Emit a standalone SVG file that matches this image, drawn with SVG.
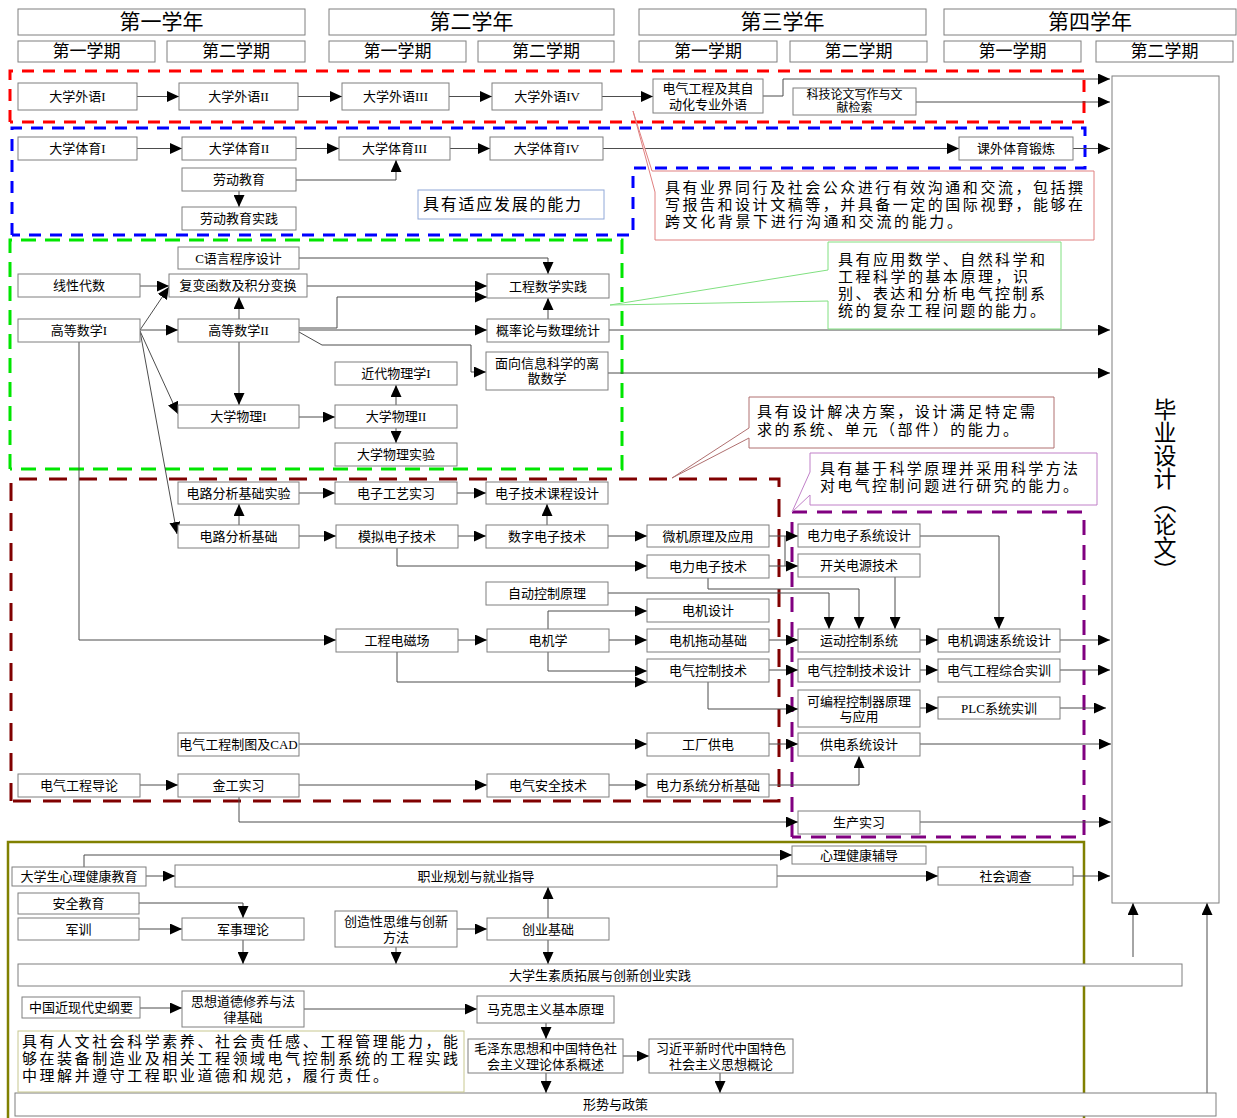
<svg xmlns="http://www.w3.org/2000/svg" width="1237" height="1118" viewBox="0 0 1237 1118">
<defs>
<marker id="a" markerUnits="userSpaceOnUse" markerWidth="12" markerHeight="11" refX="12" refY="5.5" orient="auto"><path d="M0,0L12,5.5L0,11z" fill="#000"/></marker>
</defs>
<style>
.n rect{fill:#fff;stroke:#7f7f7f;stroke-width:1}
.n text{font-family:"Liberation Serif","Noto Sans CJK SC",serif;font-size:13px;text-anchor:middle;dominant-baseline:central;fill:#000}
.n .hy{font-size:21px}
.n .hs{font-size:17px}
.n .sm{font-size:12px}
.c path{fill:none;stroke:#4d4d4d;stroke-width:1;marker-end:url(#a)}
.c path.nm{marker-end:none}
.d{fill:none;stroke-width:3}
.co{fill:#fff;stroke-width:1}
.ct{font-family:"Noto Sans CJK SC",sans-serif;font-size:15px;fill:#000}
.vt{font-family:"Noto Sans CJK SC",sans-serif;font-size:23px;writing-mode:vertical-rl;fill:#000}
</style>
<rect width="1237" height="1118" fill="#fff"/>

<g id="regions">
<path class="d" stroke="#ff0000" stroke-dasharray="12 9" d="M10,122V71H1084V122H10"/>
<path class="d" stroke="#0000ff" stroke-dasharray="12 9" d="M12,235V128H1085V168H633V235H12"/>
<path class="d" stroke="#00e600" stroke-dasharray="15 9" d="M10,469V240H622V469H10"/>
<path class="d" stroke="#800000" stroke-dasharray="18 12" d="M11,801V479H779V801H11"/>
<path class="d" stroke="#800080" stroke-dasharray="15 10" d="M792,837V512H1084V837H792"/>
<path fill="none" stroke="#808000" stroke-width="2.5" d="M8,1118V842H1084V1118"/>
</g>

<g class="c" id="connectors">
<path d="M137,96.5H179"/><path d="M298,96.5H342"/><path d="M449,96.5H492"/><path d="M602,96.5H653"/>
<path d="M763,96H783V79H1110"/><path d="M916,102H1110"/>
<path d="M137,148.5H182"/><path d="M296,148.5H339"/><path d="M450,148.5H490"/><path d="M603,148.5H959"/><path d="M1073,148.5H1110"/>
<path d="M296,180H396V160"/><path d="M239,191V207"/>
<path d="M299,258H548V274"/><path d="M307,286H487"/><path d="M299,328H337V297H487"/><path d="M299,330H487"/>
<path d="M299,332L322,345H471V372H486"/><path d="M548,319V298"/><path d="M609,330H1110"/><path d="M608,373H1110"/>
<path d="M140,286H169"/><path d="M140,330L169,287"/><path d="M140,330H178"/><path d="M140,331L178,414"/><path d="M140,331L177,534"/>
<path d="M79,342V640H336"/><path d="M239,319V297"/><path d="M239,342V405"/><path d="M299,417H335"/><path d="M396,405V385"/><path d="M396,428V443"/>
<path d="M239,525V504"/><path d="M299,493H335"/><path d="M457,493H486"/><path d="M299,536H336"/><path d="M458,536H486"/><path d="M547,525V504"/>
<path d="M608,536H647"/><path d="M397,548V566H647"/>
<path d="M769,536H798"/><path d="M769,566H798"/><path class="nm" d="M785,536V566"/>
<path d="M708,578V589H859V629"/><path d="M608,593H829V629"/><path d="M895,577V629"/><path d="M920,536H999V629"/>
<path d="M458,640H487"/><path d="M548,629V611H647"/><path d="M609,640H647"/><path d="M548,652V671H647"/><path d="M397,652V682H647"/>
<path d="M769,640H798"/><path d="M769,670H798"/><path d="M708,682V709H798"/><path d="M299,744H647"/><path d="M769,744H798"/>
<path d="M140,785H178"/><path d="M299,785H487"/><path d="M609,785H647"/><path d="M769,785H859V756"/><path d="M239,797V822H798"/>
<path d="M920,640H938"/><path d="M920,670H938"/><path d="M920,708H938"/>
<path d="M1060,640H1110"/><path d="M1060,670H1110"/><path d="M1060,708H1106"/><path d="M920,744H1111"/><path d="M920,822H1111"/>
<path d="M84,868V855H792"/><path d="M146,876H175"/><path d="M777,876H938"/><path d="M1073,876H1110"/>
<path d="M139,903H243V918"/><path d="M139,929H182"/><path d="M243,940V964"/><path d="M396,947V964"/><path d="M457,929H487"/>
<path d="M548,918V887"/><path d="M548,940V964"/><path d="M1133,957V903"/><path d="M1207,1093V903"/>
<path d="M140,1008H182"/><path d="M304,1009H477"/><path d="M546,1023V1039"/><path d="M623,1056H649"/><path d="M546,1073V1093"/><path d="M720,1073V1093"/>
</g>

<g class="n">
<g id="y1"><rect x="18" y="9" width="287" height="26"/><text class="hy" x="161.5" y="22">第一学年</text></g>
<g id="y2"><rect x="329" y="9" width="285" height="26"/><text class="hy" x="471.5" y="22">第二学年</text></g>
<g id="y3"><rect x="639" y="9" width="287" height="26"/><text class="hy" x="782.5" y="22">第三学年</text></g>
<g id="y4"><rect x="944" y="9" width="292" height="26"/><text class="hy" x="1090" y="22">第四学年</text></g>
<g id="s11"><rect x="18" y="41" width="137" height="21"/><text class="hs" x="86.5" y="51.5">第一学期</text></g>
<g id="s12"><rect x="167" y="41" width="138" height="21"/><text class="hs" x="236" y="51.5">第二学期</text></g>
<g id="s21"><rect x="329" y="41" width="137" height="21"/><text class="hs" x="397.5" y="51.5">第一学期</text></g>
<g id="s22"><rect x="478" y="41" width="136" height="21"/><text class="hs" x="546" y="51.5">第二学期</text></g>
<g id="s31"><rect x="639" y="41" width="138" height="21"/><text class="hs" x="708" y="51.5">第一学期</text></g>
<g id="s32"><rect x="790" y="41" width="137" height="21"/><text class="hs" x="858.5" y="51.5">第二学期</text></g>
<g id="s41"><rect x="944" y="41" width="137" height="21"/><text class="hs" x="1012.5" y="51.5">第一学期</text></g>
<g id="s42"><rect x="1096" y="41" width="137" height="21"/><text class="hs" x="1164.5" y="51.5">第二学期</text></g>

<g id="wy1"><rect x="18" y="83" width="119" height="27"/><text x="77.5" y="96.5">大学外语I</text></g>
<g id="wy2"><rect x="179" y="83" width="119" height="27"/><text x="238.5" y="96.5">大学外语II</text></g>
<g id="wy3"><rect x="342" y="83" width="107" height="27"/><text x="395.5" y="96.5">大学外语III</text></g>
<g id="wy4"><rect x="492" y="83" width="110" height="27"/><text x="547" y="96.5">大学外语IV</text></g>
<g id="zywy"><rect x="653" y="79" width="110" height="34"/><text x="708" y="88.5">电气工程及其自</text><text x="708" y="104">动化专业外语</text></g>
<g id="kjlw"><rect x="793" y="88" width="123" height="27"/><text class="sm" x="854.5" y="95">科技论文写作与文</text><text class="sm" x="854.5" y="108">献检索</text></g>

<g id="ty1"><rect x="18" y="137" width="119" height="23"/><text x="77.5" y="148.5">大学体育I</text></g>
<g id="ty2"><rect x="182" y="137" width="114" height="23"/><text x="239" y="148.5">大学体育II</text></g>
<g id="ty3"><rect x="339" y="137" width="111" height="23"/><text x="394.5" y="148.5">大学体育III</text></g>
<g id="ty4"><rect x="490" y="137" width="113" height="23"/><text x="546.5" y="148.5">大学体育IV</text></g>
<g id="kwty"><rect x="959" y="137" width="114" height="23"/><text x="1016" y="148.5">课外体育锻炼</text></g>
<g id="ldjy"><rect x="182" y="168" width="114" height="23"/><text x="239" y="179.5">劳动教育</text></g>
<g id="ldsj"><rect x="182" y="207" width="114" height="23"/><text x="239" y="218.5">劳动教育实践</text></g>

<g id="cyy"><rect x="178" y="247" width="121" height="22"/><text x="238.5" y="258">C语言程序设计</text></g>
<g id="xxds"><rect x="18" y="274" width="122" height="23"/><text x="79" y="285.5">线性代数</text></g>
<g id="fbhs"><rect x="169" y="274" width="138" height="23"/><text x="238" y="285.5">复变函数及积分变换</text></g>
<g id="gdsx1"><rect x="18" y="319" width="122" height="23"/><text x="79" y="330.5">高等数学I</text></g>
<g id="gdsx2"><rect x="178" y="319" width="121" height="23"/><text x="238.5" y="330.5">高等数学II</text></g>
<g id="gcsx"><rect x="487" y="274" width="122" height="24"/><text x="548" y="286">工程数学实践</text></g>
<g id="gll"><rect x="487" y="319" width="122" height="23"/><text x="548" y="330.5">概率论与数理统计</text></g>
<g id="lssx"><rect x="486" y="352" width="122" height="38"/><text x="547" y="363">面向信息科学的离</text><text x="547" y="378">散数学</text></g>
<g id="jdwl"><rect x="335" y="362" width="122" height="23"/><text x="396" y="373.5">近代物理学I</text></g>
<g id="dxwl1"><rect x="178" y="405" width="121" height="23"/><text x="238.5" y="416.5">大学物理I</text></g>
<g id="dxwl2"><rect x="335" y="405" width="122" height="23"/><text x="396" y="416.5">大学物理II</text></g>
<g id="wlsy"><rect x="335" y="443" width="122" height="23"/><text x="396" y="454.5">大学物理实验</text></g>

<g id="dlsy"><rect x="178" y="482" width="121" height="22"/><text x="238.5" y="493">电路分析基础实验</text></g>
<g id="dzgy"><rect x="335" y="482" width="122" height="22"/><text x="396" y="493">电子工艺实习</text></g>
<g id="dzkc"><rect x="486" y="482" width="122" height="22"/><text x="547" y="493">电子技术课程设计</text></g>
<g id="dlfx"><rect x="178" y="525" width="121" height="23"/><text x="238.5" y="536.5">电路分析基础</text></g>
<g id="mndz"><rect x="336" y="525" width="122" height="23"/><text x="397" y="536.5">模拟电子技术</text></g>
<g id="szdz"><rect x="486" y="525" width="122" height="23"/><text x="547" y="536.5">数字电子技术</text></g>
<g id="wjyl"><rect x="647" y="525" width="122" height="22"/><text x="708" y="536">微机原理及应用</text></g>
<g id="dldz"><rect x="647" y="555" width="122" height="23"/><text x="708" y="566.5">电力电子技术</text></g>
<g id="zdkz"><rect x="486" y="582" width="122" height="23"/><text x="547" y="593.5">自动控制原理</text></g>
<g id="djsj"><rect x="647" y="599" width="122" height="23"/><text x="708" y="610.5">电机设计</text></g>
<g id="gcdc"><rect x="336" y="629" width="122" height="23"/><text x="397" y="640.5">工程电磁场</text></g>
<g id="djx"><rect x="487" y="629" width="122" height="23"/><text x="548" y="640.5">电机学</text></g>
<g id="djtd"><rect x="647" y="629" width="122" height="23"/><text x="708" y="640.5">电机拖动基础</text></g>
<g id="dqkz"><rect x="647" y="659" width="122" height="23"/><text x="708" y="670.5">电气控制技术</text></g>
<g id="cad"><rect x="178" y="733" width="121" height="23"/><text x="238.5" y="744.5">电气工程制图及CAD</text></g>
<g id="gcgd"><rect x="647" y="733" width="122" height="23"/><text x="708" y="744.5">工厂供电</text></g>
<g id="dqdl"><rect x="18" y="774" width="122" height="23"/><text x="79" y="785.5">电气工程导论</text></g>
<g id="jgsx"><rect x="178" y="774" width="121" height="23"/><text x="238.5" y="785.5">金工实习</text></g>
<g id="dqaq"><rect x="487" y="774" width="122" height="23"/><text x="548" y="785.5">电气安全技术</text></g>
<g id="dlxt"><rect x="647" y="774" width="122" height="23"/><text x="708" y="785.5">电力系统分析基础</text></g>

<g id="dlxtsj"><rect x="798" y="524" width="122" height="23"/><text x="859" y="535.5">电力电子系统设计</text></g>
<g id="kgdy"><rect x="798" y="554" width="122" height="23"/><text x="859" y="565.5">开关电源技术</text></g>
<g id="ydkz"><rect x="798" y="629" width="122" height="23"/><text x="859" y="640.5">运动控制系统</text></g>
<g id="djts"><rect x="938" y="629" width="122" height="23"/><text x="999" y="640.5">电机调速系统设计</text></g>
<g id="dqkzsj"><rect x="798" y="659" width="122" height="23"/><text x="859" y="670.5">电气控制技术设计</text></g>
<g id="dqzh"><rect x="938" y="659" width="122" height="23"/><text x="999" y="670.5">电气工程综合实训</text></g>
<g id="plc"><rect x="798" y="690" width="122" height="37"/><text x="859" y="701">可编程控制器原理</text><text x="859" y="716">与应用</text></g>
<g id="plcsx"><rect x="938" y="697" width="122" height="22"/><text x="999" y="708">PLC系统实训</text></g>
<g id="gdxt"><rect x="798" y="733" width="122" height="23"/><text x="859" y="744.5">供电系统设计</text></g>
<g id="scsx"><rect x="798" y="811" width="122" height="23"/><text x="859" y="822.5">生产实习</text></g>

<g id="bysj"><rect x="1112" y="76" width="107" height="827"/></g>

<g id="xljk"><rect x="12" y="867" width="134" height="19"/><text x="79" y="876.5">大学生心理健康教育</text></g>
<g id="zygh"><rect x="175" y="865" width="602" height="22"/><text x="476" y="876">职业规划与就业指导</text></g>
<g id="xlfd"><rect x="792" y="846" width="134" height="18"/><text x="859" y="855">心理健康辅导</text></g>
<g id="shdc"><rect x="938" y="867" width="135" height="18"/><text x="1005.5" y="876">社会调查</text></g>
<g id="aqjy"><rect x="18" y="893" width="121" height="21"/><text x="78.5" y="903.5">安全教育</text></g>
<g id="jx"><rect x="18" y="918" width="121" height="22"/><text x="78.5" y="929">军训</text></g>
<g id="jsll"><rect x="182" y="918" width="122" height="22"/><text x="243" y="929">军事理论</text></g>
<g id="czx"><rect x="335" y="911" width="122" height="36"/><text x="396" y="921">创造性思维与创新</text><text x="396" y="937">方法</text></g>
<g id="cyjc"><rect x="487" y="918" width="122" height="22"/><text x="548" y="929">创业基础</text></g>
<g id="szkz"><rect x="18" y="964" width="1164" height="22"/><text x="600" y="975">大学生素质拓展与创新创业实践</text></g>
<g id="zgjx"><rect x="22" y="997" width="118" height="21"/><text x="81" y="1007.5">中国近现代史纲要</text></g>
<g id="sxdd"><rect x="182" y="991" width="122" height="36"/><text x="243" y="1001">思想道德修养与法</text><text x="243" y="1017">律基础</text></g>
<g id="mks"><rect x="477" y="996" width="137" height="27"/><text x="545.5" y="1009.5">马克思主义基本原理</text></g>
<g id="mzd"><rect x="468" y="1039" width="155" height="34"/><text x="545.5" y="1048">毛泽东思想和中国特色社</text><text x="545.5" y="1064">会主义理论体系概述</text></g>
<g id="xjp"><rect x="649" y="1039" width="144" height="34"/><text x="721" y="1048">习近平新时代中国特色</text><text x="721" y="1064">社会主义思想概论</text></g>
<g id="xszc"><rect x="15" y="1093" width="1201" height="23"/><text x="615.5" y="1104.5">形势与政策</text></g>
</g>

<text class="vt" x="1165" y="398">毕业设计（论文）</text>

<g id="callouts">
<rect class="co" x="418" y="190" width="186" height="29" stroke="#90a8d8"/>
<text class="ct" x="423" y="210" textLength="158" lengthAdjust="spacing" style="font-size:16px">具有适应发展的能力</text>
<path class="co" stroke="#e08080" d="M655,171H1094V240H655V192L633,111L652,171Z"/>
<text class="ct" x="665" y="193" textLength="418" lengthAdjust="spacing">具有业界同行及社会公众进行有效沟通和交流，包括撰</text>
<text class="ct" x="665" y="210" textLength="418" lengthAdjust="spacing">写报告和设计文稿等，并具备一定的国际视野，能够在</text>
<text class="ct" x="665" y="227" textLength="297" lengthAdjust="spacing">跨文化背景下进行沟通和交流的能力。</text>
<path class="co" stroke="#80e080" d="M828,242H1061V329H828V301L610,305L828,270Z"/>
<text class="ct" x="838" y="265" textLength="207" lengthAdjust="spacing">具有应用数学、自然科学和</text>
<text class="ct" x="838" y="282" textLength="190" lengthAdjust="spacing">工程科学的基本原理，识</text>
<text class="ct" x="838" y="299" textLength="207" lengthAdjust="spacing">别、表达和分析电气控制系</text>
<text class="ct" x="838" y="316" textLength="207" lengthAdjust="spacing">统的复杂工程问题的能力。</text>
<path class="co" stroke="#b07070" d="M749,397H1054V448H749V438L672,478L749,428Z"/>
<text class="ct" x="757" y="417" textLength="278" lengthAdjust="spacing">具有设计解决方案，设计满足特定需</text>
<text class="ct" x="757" y="435" textLength="261" lengthAdjust="spacing">求的系统、单元（部件）的能力。</text>
<path class="co" stroke="#c080c8" d="M810,453H1097V505H810V495L792,512L810,472Z"/>
<text class="ct" x="820" y="474" textLength="258" lengthAdjust="spacing">具有基于科学原理并采用科学方法</text>
<text class="ct" x="820" y="491" textLength="258" lengthAdjust="spacing">对电气控制问题进行研究的能力。</text>
<rect class="co" x="18" y="1031" width="446" height="61" stroke="#c8c890"/>
<text class="ct" x="22" y="1047" textLength="436" lengthAdjust="spacing">具有人文社会科学素养、社会责任感、工程管理能力，能</text>
<text class="ct" x="22" y="1064" textLength="436" lengthAdjust="spacing">够在装备制造业及相关工程领域电气控制系统的工程实践</text>
<text class="ct" x="22" y="1081" textLength="366" lengthAdjust="spacing">中理解并遵守工程职业道德和规范，履行责任。</text>
</g>
</svg>
